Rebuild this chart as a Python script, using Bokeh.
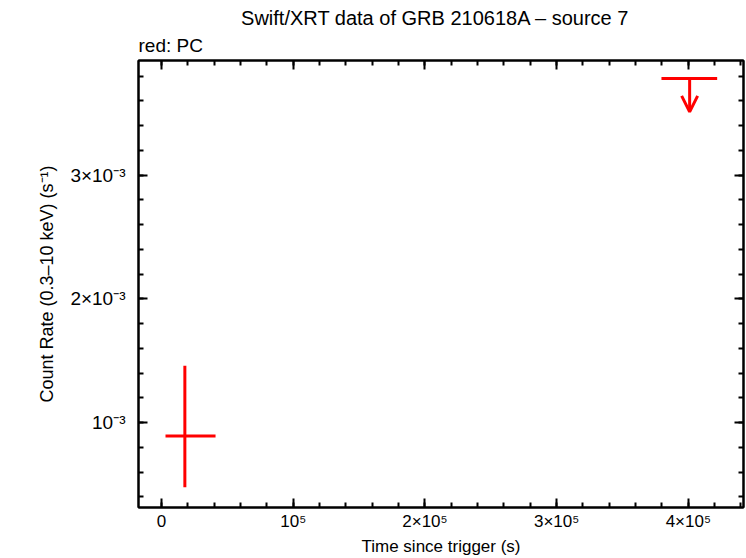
import numpy as np
from bokeh.plotting import figure
from bokeh.models import (ColumnDataSource, FixedTicker, LinearAxis, Range1d, Title,
                          Arrow, OpenHead, CustomJSTickFormatter)
from bokeh.embed import file_html
from bokeh.resources import INLINE

# ---- data ----
pc_t = [17700.0]
pc_t_lo = [3000.0]
pc_t_hi = [41000.0]
pc_rate = [0.893e-3]
pc_rate_lo = [0.478e-3]
pc_rate_hi = [1.46e-3]

ul_t = [401000.0]
ul_t_lo = [379600.0]
ul_t_hi = [421900.0]
ul_rate = [3.782e-3]

x_ticks = [0, 100000, 200000, 300000, 400000]
x_tick_labels = ["0", "10⁵", "2×10⁵", "3×10⁵", "4×10⁵"]
y_ticks = [1e-3, 2e-3, 3e-3]
y_tick_labels = ["10⁻³", "2×10⁻³", "3×10⁻³"]

FONT = "Liberation Sans"
RED = "#ff0000"

p = figure(width=746, height=558, output_backend="svg", toolbar_location=None,
           x_range=Range1d(-17500, 441900), y_range=Range1d(0.315e-3, 3.927e-3),
           min_border_left=138, min_border_right=3, min_border_top=60, min_border_bottom=4,
           title="Swift/XRT data of GRB 210618A  –  source 7")
p.grid.visible = False
p.background_fill_color = "white"
p.border_fill_color = "white"
p.outline_line_color = "black"
p.outline_line_width = 2

p.title.text_font = FONT
p.title.text_font_size = "20px"
p.title.text_font_style = "normal"
p.title.align = "center"
p.title.text_color = "black"
p.title.standoff = 0

x_minor = list(np.arange(0, 440001, 20000))
y_minor = list(np.round(np.arange(0.4e-3, 3.81e-3, 0.2e-3), 6))


def style_axis(ax, ticks, minor, labels=None):
    ax.ticker = FixedTicker(ticks=ticks, minor_ticks=minor)
    ax.axis_line_width = 2
    ax.axis_line_color = "black"
    ax.major_tick_in = 9
    ax.major_tick_out = 0
    ax.minor_tick_in = 5
    ax.minor_tick_out = 0
    ax.major_tick_line_width = 2
    ax.minor_tick_line_width = 2
    ax.major_label_text_font = FONT
    ax.major_label_text_font_size = "17px"
    ax.major_label_text_color = "black"
    ax.axis_label_text_font = FONT
    ax.axis_label_text_font_size = "17px"
    ax.axis_label_text_font_style = "normal"
    ax.axis_label_text_color = "black"
    if labels is not None:
        ax.major_label_overrides = {t: l for t, l in zip(ticks, labels)}
    else:
        ax.formatter = CustomJSTickFormatter(code="return ''")
        ax.major_label_standoff = 0
        ax.axis_label_standoff = 0


xa = p.xaxis[0]
style_axis(xa, x_ticks, x_minor, x_tick_labels)
xa.axis_label = "Time since trigger (s)"
xa.major_label_standoff = 4
xa.axis_label_standoff = 3

ya = p.yaxis[0]
style_axis(ya, y_ticks, y_minor, y_tick_labels)
ya.axis_label = "Count Rate (0.3–10 keV) (s⁻¹)"
ya.axis_label_text_font_size = "18px"
ya.major_label_text_font_size = "19px"
ya.major_label_standoff = 13
ya.axis_label_standoff = 10

top = LinearAxis()
style_axis(top, x_ticks, x_minor)
p.add_layout(top, "above")
right = LinearAxis()
style_axis(right, y_ticks, y_minor)
p.add_layout(right, "right")

p.add_layout(Title(text="red: PC", align="left", text_font=FONT, text_font_size="19px",
                   text_font_style="normal", text_color="black", offset=0, standoff=9), "above")

# PC detection with error bars
src = ColumnDataSource(dict(t=pc_t, tlo=pc_t_lo, thi=pc_t_hi,
                            r=pc_rate, rlo=pc_rate_lo, rhi=pc_rate_hi))
p.segment(x0="tlo", x1="thi", y0="r", y1="r", source=src, line_color=RED, line_width=3)
p.segment(x0="t", x1="t", y0="rlo", y1="rhi", source=src, line_color=RED, line_width=3)

# upper limit
ul_arrow_len = 0.27e-3
usrc = ColumnDataSource(dict(t=ul_t, tlo=ul_t_lo, thi=ul_t_hi, r=ul_rate,
                             rend=[v - ul_arrow_len for v in ul_rate]))
p.segment(x0="tlo", x1="thi", y0="r", y1="r", source=usrc, line_color=RED, line_width=3)
p.add_layout(Arrow(x_start="t", y_start="r", x_end="t", y_end="rend", source=usrc,
                   line_color=RED, line_width=3,
                   end=OpenHead(size=16, line_color=RED, line_width=3)))

open("out.html", "w").write(file_html(p, INLINE))
